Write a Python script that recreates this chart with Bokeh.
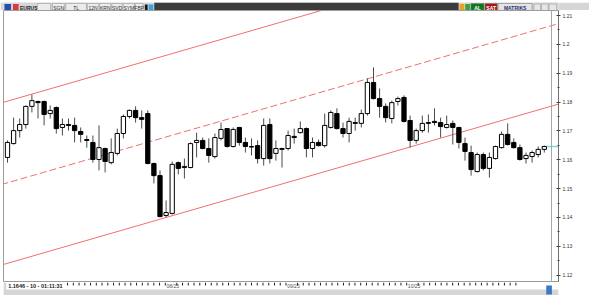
from bokeh.plotting import figure
from bokeh.models import ColumnDataSource, FixedTicker, Range1d, Span
from bokeh.layouts import column
from bokeh.embed import file_html
from bokeh.resources import INLINE
from bokeh.core.properties import value

# ---------------- data (daily EURUSD candles) -------------
opens = [1.1608, 1.1656, 1.1701, 1.1722, 1.1785, 1.1802, 1.1802, 1.1760, 1.1781, 1.1712,
         1.1722, 1.1719, 1.1698, 1.1670, 1.1660, 1.1601, 1.1639, 1.1590, 1.1622, 1.1691,
         1.1750, 1.1771, 1.1746, 1.1760, 1.1587, 1.1545, 1.1407, 1.1414, 1.1590, 1.1573,
         1.1573, 1.1660, 1.1667, 1.1639, 1.1611, 1.1674, 1.1708, 1.1646, 1.1712, 1.1660,
         1.1644, 1.1649, 1.1604, 1.1722, 1.1622, 1.1639, 1.1639, 1.1681, 1.1694, 1.1708,
         1.1639, 1.1660, 1.1649, 1.1712, 1.1760, 1.1708, 1.1691, 1.1726, 1.1726, 1.1760,
         1.1868, 1.1812, 1.1785, 1.1743, 1.1802, 1.1816, 1.1736, 1.1667, 1.1701, 1.1726,
         1.1733, 1.1729, 1.1712, 1.1726, 1.1712, 1.1656, 1.1625, 1.1559, 1.1618, 1.1570,
         1.1604, 1.1642, 1.1688, 1.1660, 1.1642, 1.1604, 1.1611, 1.1618, 1.1636]
highs = [1.1667, 1.1746, 1.1743, 1.1788, 1.1826, 1.1805, 1.1805, 1.1788, 1.1785, 1.1743,
         1.1743, 1.1746, 1.1712, 1.1684, 1.1684, 1.1719, 1.1642, 1.1674, 1.1708, 1.1757,
         1.1774, 1.1785, 1.1771, 1.1771, 1.1590, 1.1563, 1.1459, 1.1594, 1.1594, 1.1604,
         1.1660, 1.1694, 1.1677, 1.1674, 1.1691, 1.1729, 1.1710, 1.1712, 1.1714, 1.1677,
         1.1674, 1.1667, 1.1743, 1.1743, 1.1667, 1.1642, 1.1701, 1.1708, 1.1733, 1.1712,
         1.1677, 1.1670, 1.1760, 1.1771, 1.1778, 1.1729, 1.1746, 1.1746, 1.1774, 1.1882,
         1.1920, 1.1847, 1.1795, 1.1805, 1.1819, 1.1823, 1.1753, 1.1708, 1.1753, 1.1757,
         1.1778, 1.1746, 1.1753, 1.1736, 1.1714, 1.1677, 1.1649, 1.1625, 1.1625, 1.1625,
         1.1649, 1.1698, 1.1726, 1.1674, 1.1653, 1.1625, 1.1632, 1.1646, 1.1649]
lows = [1.1590, 1.1653, 1.1677, 1.1708, 1.1764, 1.1743, 1.1719, 1.1743, 1.1691, 1.1684,
        1.1701, 1.1660, 1.1660, 1.1642, 1.1590, 1.1563, 1.1556, 1.1584, 1.1615, 1.1674,
        1.1743, 1.1729, 1.1708, 1.1584, 1.1518, 1.1400, 1.1400, 1.1410, 1.1549, 1.1535,
        1.1570, 1.1608, 1.1636, 1.1590, 1.1604, 1.1667, 1.1642, 1.1642, 1.1649, 1.1625,
        1.1615, 1.1587, 1.1580, 1.1587, 1.1597, 1.1573, 1.1632, 1.1656, 1.1691, 1.1608,
        1.1608, 1.1646, 1.1642, 1.1708, 1.1705, 1.1677, 1.1660, 1.1701, 1.1712, 1.1753,
        1.1809, 1.1746, 1.1729, 1.1726, 1.1788, 1.1729, 1.1642, 1.1656, 1.1694, 1.1694,
        1.1719, 1.1677, 1.1708, 1.1653, 1.1639, 1.1597, 1.1545, 1.1556, 1.1563, 1.1538,
        1.1601, 1.1639, 1.1649, 1.1639, 1.1597, 1.1587, 1.1590, 1.1608, 1.1625]
closes = [1.1660, 1.1701, 1.1722, 1.1785, 1.1805, 1.1798, 1.1757, 1.1771, 1.1708, 1.1722,
          1.1719, 1.1701, 1.1688, 1.1667, 1.1601, 1.1642, 1.1594, 1.1625, 1.1691, 1.1750,
          1.1771, 1.1746, 1.1740, 1.1587, 1.1545, 1.1403, 1.1417, 1.1584, 1.1570, 1.1577,
          1.1656, 1.1667, 1.1639, 1.1615, 1.1677, 1.1705, 1.1646, 1.1705, 1.1660, 1.1646,
          1.1646, 1.1604, 1.1719, 1.1604, 1.1639, 1.1636, 1.1684, 1.1677, 1.1708, 1.1639,
          1.1660, 1.1649, 1.1719, 1.1764, 1.1708, 1.1691, 1.1733, 1.1729, 1.1760, 1.1868,
          1.1812, 1.1785, 1.1746, 1.1798, 1.1812, 1.1733, 1.1667, 1.1701, 1.1726, 1.1729,
          1.1729, 1.1715, 1.1722, 1.1712, 1.1660, 1.1629, 1.1566, 1.1618, 1.1570, 1.1608,
          1.1646, 1.1688, 1.1653, 1.1642, 1.1601, 1.1615, 1.1625, 1.1636, 1.1646]

price_ticks = [1.12, 1.13, 1.14, 1.15, 1.16, 1.17, 1.18, 1.19, 1.20, 1.21]
price_labels = ["1.12", "1.13", "1.14", "1.15", "1.16", "1.17", "1.18", "1.19", "1.2", "1.21"]
date_ticks = [27, 48, 69]
date_labels = ["08/25", "09/25", "10/25"]
first_time_tick = 10

# regression channel (upper / middle / lower), two anchor points each
channel_x = [-1, 91]
channel_upper = [1.1797, 1.2359]
channel_middle = [1.1514, 1.2076]
channel_lower = [1.1235, 1.1797]

last_price = 1.1646
status_text = "1.1646 - 10 - 01:11:31"
symbol = "EURUSD"
toolbar_buttons = ["SGN", "TL", "12N", "KRN", "SVD", "SYM", "FBP"]

# ---------------- layout constants -----------------------------------------------
W, H = 589, 295
TOP = 10
BOTTOM = 13
PX_PER_BAR = 6.1
X0 = -4 / PX_PER_BAR
FRAME_W = W - 3 - 31
X1 = X0 + FRAME_W / PX_PER_BAR
PX_PER_PRICE = 2885.0
Y_TOP = 1.21 + 5 / PX_PER_PRICE
FRAME_H = H - TOP - BOTTOM
Y_BOT = Y_TOP - FRAME_H / PX_PER_PRICE
FONT = value("Liberation Sans")
CHROME = "#d6d6d6"

# ---------------- top toolbar strip ----------------------------------------------
tb = figure(width=W, height=TOP, x_range=Range1d(0, W), y_range=Range1d(0, TOP),
            min_border=0, toolbar_location=None, output_backend="svg",
            x_axis_location=None, y_axis_location=None,
            background_fill_color=CHROME, border_fill_color=CHROME)
tb.grid.visible = False
tb.outline_line_color = None
tb.quad(left=[160], right=[483], bottom=[0], top=[10], fill_color="#3c3c3c", line_color=None)
tb.quad(left=[1], right=[8], bottom=[1.5], top=[8.5], fill_color="#2b4fa8", line_color=None)
tb.quad(left=[10], right=[16], bottom=[1.5], top=[8.5], fill_color="#d04040", line_color=None)
tb.text(x=[17.5], y=[5], text=[symbol], text_font=FONT, text_font_size=value("5px"),
        text_baseline="middle", text_color="#202020", text_font_style="bold")
bl = [36, 52, 66, 89, 102, 115, 127, 140]
br = [50, 65, 88, 101, 114, 126, 139, 148]
tb.quad(left=bl, right=br, bottom=[1] * len(bl), top=[9] * len(bl),
        fill_color="#ececec", line_color="#9a9a9a", line_width=0.6)
tb.text(x=[(l + r) / 2 for l, r in zip(bl[1:], br[1:])], y=[5] * len(toolbar_buttons),
        text=toolbar_buttons, text_font=FONT, text_font_size=value("5px"),
        text_align="center", text_baseline="middle", text_color="#303030")
tb.quad(left=[150, 154], right=[153, 159], bottom=[2, 2], top=[8, 8],
        fill_color=["#1a1a1a", "#3aa0e0"], line_color=None)
tb.quad(left=[484, 490], right=[489, 495], bottom=[1.5, 1.5], top=[8.5, 8.5],
        fill_color=["#e8a020", "#40a040"], line_color=None)
tb.quad(left=[496, 511, 525], right=[510, 524, 561], bottom=[1, 1, 1], top=[9, 9, 9],
        fill_color=["#0e7a1c", "#a01818", "#e4e4e4"], line_color="#808080", line_width=0.6)
tb.text(x=[503, 517.5, 543], y=[5, 5, 5], text=["AL", "SAT", "MATRIKS"], text_font=FONT,
        text_font_size=value("5px"), text_align="center", text_baseline="middle",
        text_color=["white", "white", "#22307a"], text_font_style="bold")
tb.quad(left=[563, 571, 579], right=[570, 578, 587], bottom=[1.5] * 3, top=[8.5] * 3,
        fill_color="#e6e6e6", line_color="#9a9a9a", line_width=0.6)

# ---------------- main chart -----------------------------------------------------
p = figure(width=W, height=FRAME_H, x_range=Range1d(X0, X1), y_range=Range1d(Y_BOT, Y_TOP),
           output_backend="svg", toolbar_location=None, y_axis_location="right",
           x_axis_location=None,
           min_border_left=3, min_border_right=31, min_border_top=0, min_border_bottom=0,
           background_fill_color="white", border_fill_color="white")
p.grid.visible = False
p.outline_line_color = "#9c9c9c"

n = len(opens)
idx = list(range(n))
src = ColumnDataSource(dict(
    x=idx, o=opens, h=highs, l=lows, c=closes,
    top=[max(o, c) for o, c in zip(opens, closes)],
    bottom=[min(o, c) for o, c in zip(opens, closes)],
    fill=["white" if c >= o else "black" for o, c in zip(opens, closes)],
))

# channel
p.line(channel_x, channel_upper, line_color="#f07070", line_width=1)
p.line(channel_x, channel_middle, line_color="#f07070", line_width=1, line_dash="7 3")
p.line(channel_x, channel_lower, line_color="#f07070", line_width=1)

# price-scale separator
p.add_layout(Span(location=X0 + (551 - 3) / PX_PER_BAR, dimension="height",
                  line_color="#a8a8a8", line_width=1))

# candles
p.segment(x0="x", y0="h", x1="x", y1="l", source=src, line_color="#4a4a4a", line_width=1)
p.vbar(x="x", width=0.7, top="top", bottom="bottom", fill_color="fill",
       line_color="black", line_width=1, source=src)

# current price marker
p.segment(x0=[n - 1 + 0.45], y0=[last_price], x1=[X1], y1=[last_price],
          line_color="#79d9dc", line_width=1.5)

# right price axis
ya = p.yaxis[0]
ya.ticker = FixedTicker(ticks=price_ticks,
                        minor_ticks=[(a + b) / 2 for a, b in zip(price_ticks[:-1], price_ticks[1:])])
ya.major_label_overrides = {t: s for t, s in zip(price_ticks, price_labels)}
ya.axis_line_color = "#707070"
ya.major_tick_in = 2
ya.major_tick_out = 2
ya.minor_tick_in = 1
ya.minor_tick_out = 1
ya.major_tick_line_color = "#404040"
ya.minor_tick_line_color = "#404040"
ya.major_label_standoff = 2
ya.major_label_text_font = "Liberation Sans"
ya.major_label_text_font_size = "5px"
ya.major_label_text_color = "#303030"

# ---------------- bottom time-scale strip (same bar scale as the chart) -----------
bx0 = X0 - 3 / PX_PER_BAR
bx1 = X1 + 31 / PX_PER_BAR
bt = figure(width=W, height=BOTTOM, x_range=Range1d(bx0, bx1), y_range=Range1d(0, BOTTOM),
            min_border=0, toolbar_location=None, output_backend="svg",
            x_axis_location=None, y_axis_location=None,
            background_fill_color="white", border_fill_color="white")
bt.grid.visible = False
bt.outline_line_color = None
bt.quad(left=[bx0], right=[bx1], bottom=[0], top=[6], fill_color=CHROME, line_color=None)
bt.quad(left=[bx0], right=[bx0 + 3 / PX_PER_BAR], bottom=[0], top=[BOTTOM],
        fill_color=CHROME, line_color=None)
tick_x = [t for t in range(first_time_tick, n)
          if not any(d < t < d + 2 for d in date_ticks)]
bt.segment(x0=tick_x, y0=[BOTTOM] * len(tick_x), x1=tick_x, y1=[BOTTOM - 3] * len(tick_x),
           line_color="#202020", line_width=1)
bt.text(x=[d + 0.2 for d in date_ticks], y=[BOTTOM - 0.6] * len(date_ticks), text=date_labels,
        text_font=FONT, text_font_size=value("5px"), text_baseline="top",
        text_align="left", text_color="#505050")
bt.text(x=[X0 + 2 / PX_PER_BAR], y=[BOTTOM - 0.4], text=[status_text], text_font=FONT,
        text_font_size=value("5.5px"), text_font_style="bold", text_baseline="top",
        text_color="#202020")
bt.quad(left=[X1 + 18 / PX_PER_BAR], right=[X1 + 24 / PX_PER_BAR], bottom=[1], top=[10],
        fill_color="#3a78c8", line_color=None)

layout = column(tb, p, bt, spacing=0)
open("out.html", "w").write(file_html(layout, INLINE))
